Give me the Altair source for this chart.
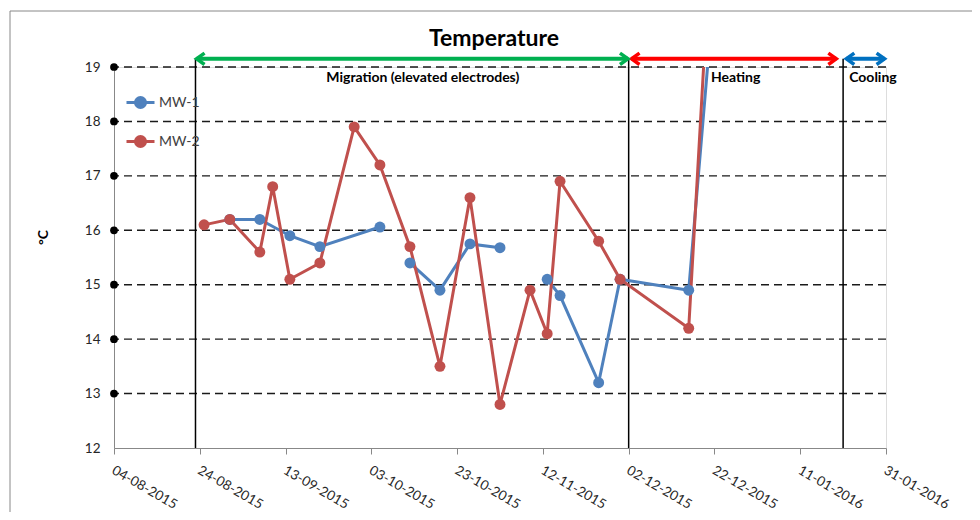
import altair as alt
import pandas as pd

# ---------------- data ----------------
series_names = ["MW-1", "MW-2"]
series_colors = ["#4F81BD", "#C0504D"]

mw1_dates = ["2015-08-31", "2015-09-07", "2015-09-14", "2015-09-21", "2015-10-05",
             "2015-10-12", "2015-10-19", "2015-10-26", "2015-11-02",
             "2015-11-13", "2015-11-16", "2015-11-25", "2015-11-30", "2015-12-16", "2015-12-22"]
mw1_values = [16.2, 16.2, 15.9, 15.7, 16.06,
              15.4, 14.9, 15.75, 15.68,
              15.1, 14.8, 13.2, 15.1, 14.9, 20.5]
mw1_segment = [1, 1, 1, 1, 1,
               2, 2, 2, 2,
               3, 3, 3, 3, 3, 3]

mw2_dates = ["2015-08-25", "2015-08-31", "2015-09-07", "2015-09-10", "2015-09-14",
             "2015-09-21", "2015-09-29", "2015-10-05", "2015-10-12", "2015-10-19",
             "2015-10-26", "2015-11-02", "2015-11-09", "2015-11-13", "2015-11-16",
             "2015-11-25", "2015-11-30", "2015-12-16", "2015-12-22"]
mw2_values = [16.1, 16.2, 15.6, 16.8, 15.1,
              15.4, 17.9, 17.2, 15.7, 13.5,
              16.6, 12.8, 14.9, 14.1, 16.9,
              15.8, 15.1, 14.2, 22.5]

x_tick_dates = ["2015-08-04", "2015-08-24", "2015-09-13", "2015-10-03", "2015-10-23",
                "2015-11-12", "2015-12-02", "2015-12-22", "2016-01-11", "2016-01-31"]
y_ticks = [12, 13, 14, 15, 16, 17, 18, 19]
grid_values = [13, 14, 15, 16, 17, 18, 19]

chart_title = "Temperature"
phase_lines = ["2015-08-23", "2015-12-02", "2016-01-21"]
phase_names = ["Migration (elevated electrodes)", "Heating", "Cooling"]
arrow_starts = ["2015-08-23T06:00", "2015-12-02T16:00", "2016-01-21T18:00"]
arrow_ends = ["2015-12-01T20:00", "2016-01-19T10:00", "2016-01-30T16:00"]
arrow_colors = ["#00B050", "#FF0000", "#0070C0"]

# ---------------- tables ----------------
def ts(lst):
    return pd.to_datetime(lst, format="ISO8601")

df = pd.concat([
    pd.DataFrame({"date": ts(mw1_dates), "value": mw1_values,
                  "series": series_names[0],
                  "segment": [f"MW-1-{s}" for s in mw1_segment]}),
    pd.DataFrame({"date": ts(mw2_dates), "value": mw2_values,
                  "series": series_names[1], "segment": "MW-2"}),
], ignore_index=True)

grid_df = pd.DataFrame({"value": grid_values})
vline_df = pd.DataFrame({"date": ts(phase_lines)})
arrow_df = pd.DataFrame({"start": ts(arrow_starts),
                         "end": ts(arrow_ends),
                         "color": arrow_colors})
label_df = pd.DataFrame({
    "date": ts(["2015-10-15T00:00", "2015-12-21T05:00", "2016-01-22T10:00"]),
    "label": phase_names,
    "align": ["center", "left", "left"],
})

FONT = "Lato"
W, H = 772, 381

def dt(s):
    t = pd.Timestamp(s)
    return alt.DateTime(year=t.year, month=t.month, date=t.day)

x_scale = alt.Scale(domain=[dt(x_tick_dates[0]), dt(x_tick_dates[-1])])
y_scale = alt.Scale(domain=[12, 19], nice=False, zero=False)

x_axis = alt.Axis(values=[dt(d) for d in x_tick_dates], format="%d-%m-%Y",
                  labelAngle=30, labelAlign="left", labelBaseline="top",
                  labelPadding=9, labelOffset=2, labelFontSize=13.5, labelColor="#262626",
                  labelFont=FONT, labelOverlap=False, labelFlush=False, labelBound=False,
                  tickColor="#888888", tickSize=6, domainColor="#888888",
                  grid=False, title=None)
y_axis = alt.Axis(values=y_ticks, format="d", labelFontSize=13.5, labelColor="#262626",
                  labelFont=FONT, labelPadding=14, ticks=False, domainColor="#888888",
                  grid=False,
                  title="°C", titleFont=FONT, titleFontSize=14, titleFontWeight="bold",
                  titleAngle=-90, titleX=-64, titleY=170, titleAlign="center",
                  titleColor="#000000")

def X(field="date"):
    return alt.X(f"{field}:T", scale=x_scale, axis=x_axis)

def Y(field="value"):
    return alt.Y(f"{field}:Q", scale=y_scale, axis=y_axis)

one_row = alt.Data(values=[{"title": chart_title}])

# border around chart area
border = alt.Chart(one_row).mark_rect(
    fill=None, stroke="#888888", strokeWidth=1
).encode(x=alt.value(-104), x2=alt.value(864), y=alt.value(-56), y2=alt.value(470))

title = alt.Chart(one_row).mark_text(
    font=FONT, fontSize=23, fontWeight="bold", align="center", baseline="alphabetic",
    color="#000000"
).encode(text="title:N", x=alt.value(380), y=alt.value(-21))

grid = alt.Chart(grid_df).mark_rule(
    color="#1a1a1a", strokeWidth=1.4, strokeDash=[8, 5]
).encode(y=Y())

tick_dots = alt.Chart(grid_df).mark_point(
    filled=True, color="#000000", size=60, opacity=1
).encode(y=Y(), x=alt.value(0))

vlines = alt.Chart(vline_df).mark_rule(color="#000000", strokeWidth=1.5).encode(
    x=X(), y=alt.datum(12), y2=alt.datum(19.15)
)

arrows = alt.Chart(arrow_df).mark_rule(strokeWidth=4).encode(
    x=X("start"), x2="end:T", y=alt.datum(19.15),
    color=alt.Color("color:N", scale=None),
)
head_left = alt.Chart(arrow_df).mark_point(
    shape="M1.4,-1L0,0L1.4,1", size=130, strokeWidth=3.5, filled=False, opacity=1,
    strokeJoin="miter"
).encode(x=X("start"), y=alt.datum(19.15), stroke=alt.Stroke("color:N", scale=None))
head_right = alt.Chart(arrow_df).mark_point(
    shape="M-1.4,-1L0,0L-1.4,1", size=130, strokeWidth=3.5, filled=False, opacity=1,
    strokeJoin="miter"
).encode(x=X("end"), y=alt.datum(19.15), stroke=alt.Stroke("color:N", scale=None))

labels_center = alt.Chart(label_df[label_df["align"] == "center"]).mark_text(
    font=FONT, fontSize=14, fontWeight="bold", align="center", baseline="middle", color="#000000"
).encode(x=X(), y=alt.datum(18.8), text="label:N")
labels_left = alt.Chart(label_df[label_df["align"] == "left"]).mark_text(
    font=FONT, fontSize=14, fontWeight="bold", align="left", baseline="middle", color="#000000"
).encode(x=X(), y=alt.datum(18.8), text="label:N")

color_scale = alt.Scale(domain=series_names, range=series_colors)
legend_path = ("M-1,0L1,0M-0.36,0A0.36,0.36,0,1,1,0.36,0"
               "A0.36,0.36,0,1,1,-0.36,0Z")
leg = alt.Legend(title=None, orient="none", legendX=11, legendY=20,
                 symbolType=legend_path, symbolSize=784, symbolStrokeWidth=3,
                 labelFont=FONT, labelFontSize=14, labelColor="#404040",
                 labelOffset=3, rowPadding=12, padding=0)

lines = alt.Chart(df).mark_line(strokeWidth=3, clip=True).encode(
    x=X(), y=Y(),
    color=alt.Color("series:N", scale=color_scale, legend=leg),
    detail="segment:N",
)
points = alt.Chart(df).mark_point(filled=True, size=120, opacity=1, clip=True).encode(
    x=X(), y=Y(),
    color=alt.Color("series:N", scale=color_scale, legend=leg),
)

chart = alt.layer(
    border, title, grid, vlines, arrows, head_left, head_right, labels_center, labels_left,
    lines, points, tick_dots
).properties(
    width=W, height=H,
    autosize=alt.AutoSizeParams(type="none"),
    padding={"left": 106, "top": 59, "right": 86, "bottom": 64},
).configure_view(stroke=None).configure(font=FONT)

chart.save("out.html", embed_options={"renderer": "svg", "actions": False})
